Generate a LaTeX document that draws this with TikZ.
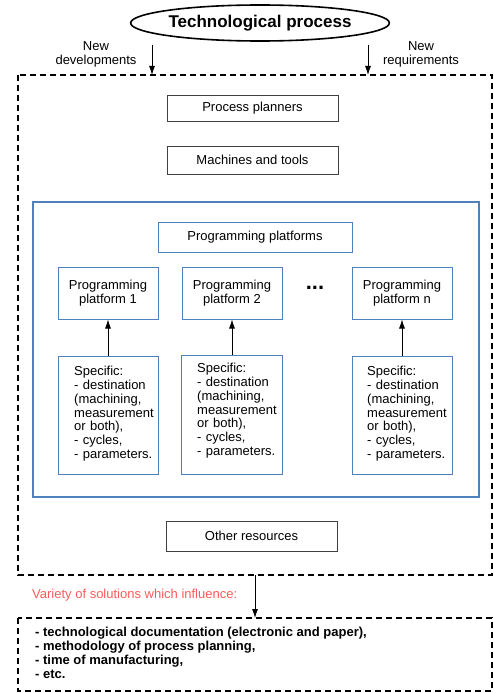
\documentclass[tikz,border=0pt]{standalone}
\usepackage{fontspec}
\setmainfont{Liberation Sans}
\usetikzlibrary{arrows.meta,shapes.geometric}
\definecolor{frameblue}{HTML}{4F81BD}
\definecolor{notered}{HTML}{FF5A5A}
\definecolor{boxgray}{HTML}{404040}
\begin{document}
\begin{tikzpicture}[x=1pt,y=-1pt,
  every node/.style={font=\fontsize{13}{13.8}\selectfont, inner sep=0pt},
  graybox/.style={draw=boxgray, line width=0.8pt, rectangle, minimum width=171pt},
  bluebox/.style={draw=frameblue, line width=1pt, rectangle},
  dashframe/.style={draw=black, line width=2.2pt, dash pattern=on 6pt off 4pt},
  arr/.style={-{Latex[length=9pt,width=6pt]}, line width=0.8pt},
  spec/.style={anchor=north west, align=left, text width=86pt}
]
\useasboundingbox (0,0) rectangle (494,693);

% header
\node[ellipse, draw, line width=1.6pt, minimum width=250pt, minimum height=36pt,
      font=\fontsize{17}{20}\selectfont\bfseries] (title) at (260,23) {Technological process};
\node[align=center] (newdev) at (96,54) {New\\developments};
\node[align=center] (newreq) at (421,54) {New\\requirements};

% outer resource frame
\draw[dashframe] (18,75) rectangle (492,575);
\coordinate (ldsrc) at (152,45);
\coordinate (ldtgt) at (152,75);
\coordinate (rqsrc) at (368,45);
\coordinate (rqtgt) at (368,75);
\draw[arr] (ldsrc) -- (ldtgt);
\draw[arr] (rqsrc) -- (rqtgt);

\node[graybox, minimum height=26pt] (planners) at (252.5,108) {Process planners};
\node[graybox, minimum height=28pt] (machines) at (252.5,160) {Machines and tools};
\node[graybox, minimum height=30pt] (other) at (251.5,536) {Other resources};

% programming platforms block
\node[draw=frameblue, line width=2.4pt, minimum width=446pt, minimum height=295pt] (block) at (256,349.5) {};
\node[bluebox, minimum width=194pt, minimum height=30pt] (pps) at (255,237) {Programming platforms};

\node[bluebox, minimum width=100pt, minimum height=52pt, align=center] (pp1) at (108,293) {Programming\\platform 1};
\node[bluebox, minimum width=100pt, minimum height=52pt, align=center] (pp2) at (232,293) {Programming\\platform 2};
\node[bluebox, minimum width=100pt, minimum height=52pt, align=center] (ppn) at (402,293) {Programming\\platform n};
\node[font=\fontsize{22}{22}\selectfont\bfseries] (dots) at (315,288) {...};

\node[bluebox, minimum width=100pt, minimum height=118pt] (sp1) at (108,415) {};
\node[bluebox, minimum width=101pt, minimum height=119pt] (sp2) at (231.5,414.5) {};
\node[bluebox, minimum width=100pt, minimum height=118pt] (spn) at (402,415) {};

\node[spec] (sp1t) at (74,366) {Specific:\\- destination\\(machining,\\measurement\\or both),\\- cycles,\\- parameters.};
\node[spec] (sp2t) at (197,363) {Specific:\\- destination\\(machining,\\measurement\\or both),\\- cycles,\\- parameters.};
\node[spec] (spnt) at (367,366) {Specific:\\- destination\\(machining,\\measurement\\or both),\\- cycles,\\- parameters.};

\draw[arr] (sp1) -- (pp1);
\draw[arr] (sp2.north -| pp2) -- (pp2);
\draw[arr] (spn) -- (ppn);

% consequences
\coordinate (outsrc) at (255,575);
\coordinate (outtgt) at (255,618);
\draw[arr] (outsrc) -- (outtgt);
\node[anchor=west, text=notered] (variety) at (32,595) {Variety of solutions which influence:};
\draw[dashframe] (18,618) rectangle (492,691);
\node[anchor=north west, align=left, font=\fontsize{13}{14}\selectfont\bfseries] (effects) at (35,627)
  {- technological documentation (electronic and paper),\\- methodology of process planning,\\- time of manufacturing,\\- etc.};
\end{tikzpicture}
\end{document}
